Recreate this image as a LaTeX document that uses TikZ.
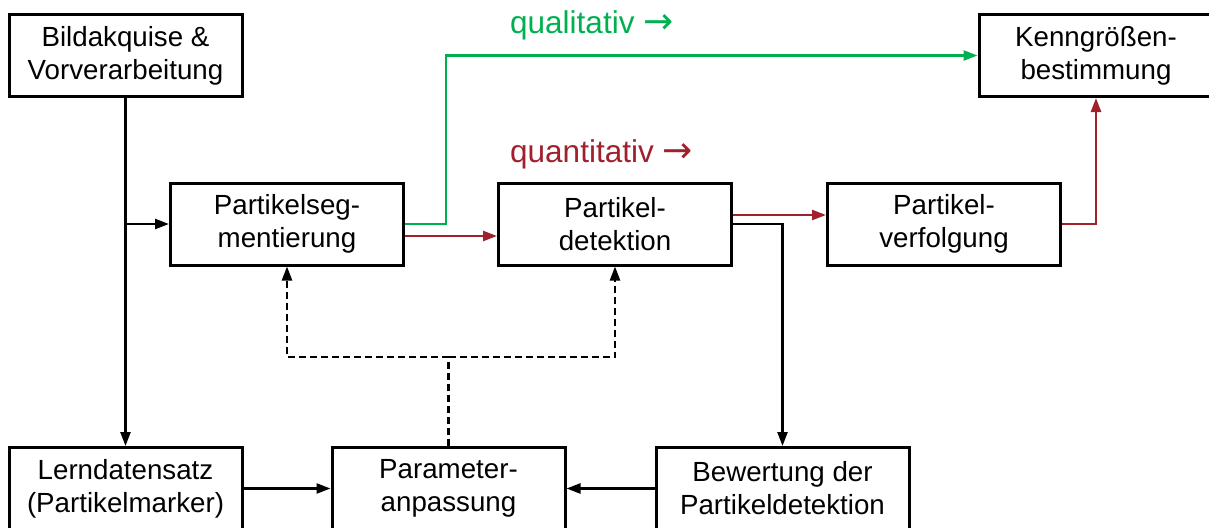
\documentclass[tikz,border=0pt]{standalone}
\usepackage{fontspec}
\setmainfont{Liberation Sans}
\newfontfamily\arrowfont{DejaVu Sans}
\usetikzlibrary{arrows.meta}
\definecolor{qualgreen}{RGB}{0,176,80}
\definecolor{quantred}{RGB}{160,32,44}
\newcommand{\flowarrow}{{\arrowfont\fontsize{36}{36}\selectfont →}}
\begin{document}
\begin{tikzpicture}[x=1pt,y=-1pt,
  box/.style={draw,line width=3pt,minimum width=233pt,minimum height=82pt,
    align=center,inner sep=0pt,font=\fontsize{27.7}{33}\selectfont},
  conn/.style={line width=2.4pt,-{Triangle[length=14pt,width=10pt]}},
  dashline/.style={line width=2.4pt,dash pattern=on 7pt off 4pt},
  dashconn/.style={dashline,-{Triangle[length=14pt,width=10pt]}},
  flowlabel/.style={anchor=base west,inner sep=0pt,font=\fontsize{31.5}{36}\selectfont}]
\useasboundingbox (0,0) rectangle (1209,527);

% process boxes
\node[box] (acq) at (125.5,55.5) {Bildakquise \&\\Vorverarbeitung};
\node[box,minimum width=234pt] (kenn) at (1096,55.5) {Kenngrößen-\\bestimmung};
\node[box] (seg) at (287,224) {Partikelseg-\\mentierung};
\node[box] (det) at (615,224) {Partikel-\\detektion};
\node[box] (trk) at (944,224) {Partikel-\\verfolgung};
\node[box] (lern) at (125.5,488.5) {Lerndatensatz\\(Partikelmarker)};
\node[box] (param) at (448.5,488.5) {Parameter-\\anpassung};
\node[box,minimum width=253pt] (eval) at (782.5,488.5) {Bewertung der\\Partikeldetektion};

% path labels
\node[flowlabel,text=qualgreen] (qual) at (510,34) {qualitativ \flowarrow};
\node[flowlabel,text=quantred] (quant) at (510,162) {quantitativ \flowarrow};

% main data flow
\draw[conn] (acq.south) -- (lern.north);
\draw[conn] (acq.south |- seg.west) -- (seg.west);
\draw[conn,qualgreen] (seg.east) -- ++(41,0) |- (kenn.west);
\draw[conn,quantred] ([yshift=-12pt]seg.east) -- ([yshift=-12pt]det.west);
\draw[conn,quantred] ([yshift=9pt]det.east) -- ([yshift=9pt]trk.west);
\draw[conn,quantred] (trk.east) -| (kenn.south);
\draw[conn] (det.east) -| (eval.north);

% training loop
\draw[conn] (lern.east) -- (param.west);
\draw[conn] (eval.west) -- (param.east);
\coordinate (fork) at (param.north |- 0,357);
\draw[dashline] (param.north) -- (fork);
\draw[dashconn] (fork) -| (seg.south);
\draw[dashconn] (fork) -| (det.south);
\end{tikzpicture}
\end{document}
